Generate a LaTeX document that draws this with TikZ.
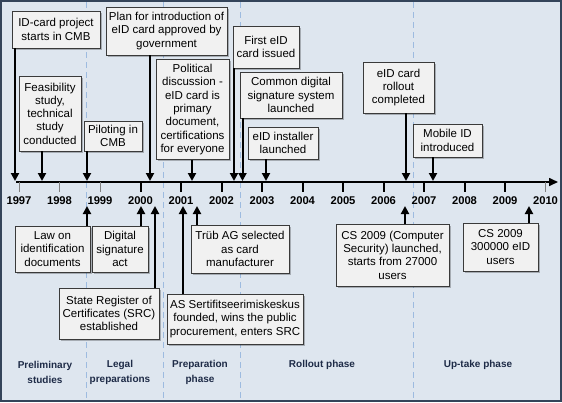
\documentclass[tikz,border=0pt]{standalone}
\usepackage{fontspec}
\setmainfont{Liberation Sans}
\usetikzlibrary{arrows.meta,shadows}
\definecolor{bgc}{HTML}{DEE6EF}
\definecolor{framec}{HTML}{34445A}
\definecolor{dashc}{HTML}{9DBBE0}
\definecolor{phasec}{HTML}{1E2B47}
\definecolor{boxfill}{HTML}{F1F1F1}
\definecolor{boxline}{HTML}{3A3A3A}
\tikzset{
  evbox/.style={draw=boxline, line width=0.8pt, fill=boxfill, inner sep=0pt, align=center,
    font=\fontsize{11.5}{13.3}\selectfont,
    drop shadow={shadow xshift=1.5pt, shadow yshift=-1.5pt, fill=black, opacity=0.25}},
  arr/.style={line width=2pt, -{Triangle[length=8pt,width=8pt]}},
  yearlbl/.style={font=\fontsize{11.2}{13}\selectfont\bfseries, inner sep=0pt},
  phaselbl/.style={font=\fontsize{10}{15}\selectfont\bfseries, text=phasec, align=center, inner sep=0pt},
  phasesep/.style={draw=dashc, line width=1pt, dash pattern=on 6pt off 4pt},
  tickthin/.style={draw=gray, line width=0.8pt},
  tickthick/.style={draw=black, line width=2pt}
}
\begin{document}
\begin{tikzpicture}[x=1pt,y=-1pt]
\useasboundingbox (0,0) rectangle (562,402);
% background frame
\path[fill=bgc, draw=framec, line width=1.6pt] (0.8,0.8) rectangle (561.2,401.2);
% phase separators
\foreach \xx in {86,163,240.5,413} {
  \draw[phasesep] (\xx,2) -- (\xx,400);
}
% axis
\coordinate (axs) at (16,182);
\coordinate (axe) at (558,182);
\draw[line width=1.6pt, -{Triangle[length=9pt,width=8pt]}] (axs) -- (axe);
% ticks and years
\foreach \yr [count=\i from 0] in {1997,...,2010} {
  \pgfmathsetmacro{\xx}{19+40.5*\i}
  \ifnum\i<3
    \draw[tickthin] (\xx,182) -- (\xx,192);
  \else\ifnum\i=13
    \draw[tickthin] (\xx,182) -- (\xx,192);
  \else
    \draw[tickthick] (\xx,182) -- (\xx,192);
  \fi\fi
  \node[yearlbl] (y\yr) at (\xx,200.5) {\yr};
}
% phase labels
\node[phaselbl] (p1) at (45,372.5) {Preliminary\\studies};
\node[phaselbl] (p2) at (120,372.5) {Legal\\preparations};
\node[phaselbl] (p3) at (200,372.5) {Preparation\\phase};
\node[phaselbl] (p4) at (322,365) {Rollout phase};
\node[phaselbl] (p5) at (478,365) {Up-take phase};
% top boxes
\node[evbox, minimum width=88pt, minimum height=37pt] (b1) at (56,29.5) {ID-card project\\starts in CMB};
\node[evbox, minimum width=62pt, minimum height=75pt] (b2) at (50,113.5) {Feasibility\\study,\\technical\\study\\conducted};
\node[evbox, minimum width=58pt, minimum height=30pt] (b3) at (113,136) {Piloting in\\CMB};
\node[evbox, minimum width=121pt, minimum height=48pt] (b4) at (166.5,31) {Plan for introduction of\\eID card approved by\\government};
\node[evbox, minimum width=73pt, minimum height=100pt] (b5) at (192.5,109.5) {Political\\discussion -\\eID card is\\primary\\document,\\certifications\\for everyone};
\node[evbox, minimum width=66pt, minimum height=42pt] (b6) at (266,47) {First eID\\card issued};
\node[evbox, minimum width=102pt, minimum height=46pt] (b7) at (291,95) {Common digital\\signature system\\launched};
\node[evbox, minimum width=70pt, minimum height=32pt] (b8) at (283,143) {eID installer\\launched};
\node[evbox, minimum width=71pt, minimum height=51pt] (b9) at (398.5,87.5) {eID card\\rollout\\completed};
\node[evbox, minimum width=69pt, minimum height=33pt] (b10) at (447.5,140.5) {Mobile ID\\introduced};
% bottom boxes
\node[evbox, minimum width=75pt, minimum height=46pt] (c1) at (52.5,249) {Law on\\identification\\documents};
\node[evbox, minimum width=56pt, minimum height=46pt] (c2) at (120,249) {Digital\\signature\\act};
\node[evbox, minimum width=100pt, minimum height=51pt] (c3) at (109,313.5) {State Register of\\Certificates (SRC)\\established};
\node[evbox, minimum width=136pt, minimum height=50pt] (c4) at (235,319) {AS Sertifitseerimiskeskus\\founded, wins the public\\procurement, enters SRC};
\node[evbox, minimum width=98pt, minimum height=48pt] (c5) at (240,249) {Trüb AG selected\\as card\\manufacturer};
\node[evbox, minimum width=113pt, minimum height=62pt] (c6) at (392.5,255) {CS 2009 (Computer\\Security) launched,\\starts from 27000\\users};
\node[evbox, minimum width=75pt, minimum height=48pt] (c7) at (500.5,247) {CS 2009\\300000 eID\\users};
% arrow targets
\coordinate (t1) at (15,181);
\coordinate (t2) at (42,181);
\coordinate (t3) at (87,181);
\coordinate (t4) at (150,181);
\coordinate (t5) at (192,181);
\coordinate (t6) at (234,181);
\coordinate (t7) at (242.5,181);
\coordinate (t8) at (266,181);
\coordinate (t9) at (406,181);
\coordinate (t10) at (433,181);
\coordinate (u1) at (87,206);
\coordinate (u2) at (141,206);
\coordinate (u3) at (155,206);
\coordinate (u4) at (183,206);
\coordinate (u5) at (197,206);
\coordinate (u6) at (405,206);
\coordinate (u7) at (529,206);
% arrows
\foreach \b/\t in {b1/t1,b2/t2,b3/t3,b4/t4,b5/t5,b6/t6,b7/t7,b8/t8,b9/t9,b10/t10} {
  \draw[arr] (\b.south -| \t) -- (\t);
}
\foreach \b/\t in {c1/u1,c2/u2,c3/u3,c4/u4,c5/u5,c6/u6,c7/u7} {
  \draw[arr] (\b.north -| \t) -- (\t);
}
\end{tikzpicture}
\end{document}
